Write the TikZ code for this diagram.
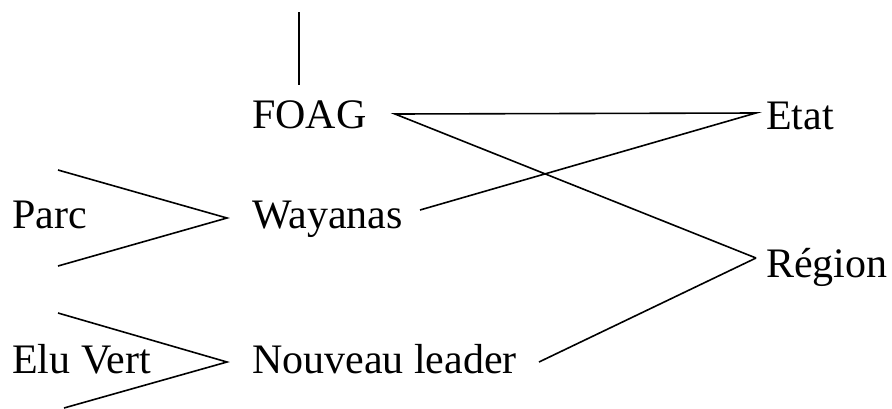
\documentclass[tikz,border=0pt]{standalone}
\usepackage{fontspec}
\setmainfont{Liberation Serif}
\usetikzlibrary{positioning}

\begin{document}
\begin{tikzpicture}[
    x=1pt, y=-1pt,
    actor/.style={anchor=base west, inner sep=0pt, font=\fontsize{42}{50}\selectfont},
    link/.style={line width=1.6pt}
]
\useasboundingbox (0,0) rectangle (892,408);

\node[actor] (foag) at (252,128) {FOAG};
\node[actor] (wayanas) at (252,228) {Wayanas};
\node[actor] (leader) at (252,373) {Nouveau leader};
\node[actor] (parc) at (12,228) {Parc};
\node[actor] (eluvert) at (12,373) {Elu Vert};
\node[actor] (etat) at (766,129) {Etat};
\node[actor] (region) at (766,277) {Région};

% ends of the connectors
\coordinate (top) at (299,12);
\coordinate (foagtop) at (299,85);
\coordinate (foagout) at (395,114);
\coordinate (wayout) at (420,210);
\coordinate (leaderout) at (539,362);
\coordinate (etatin) at (756,113);
\coordinate (regionin) at (756,258);
\coordinate (parcup) at (58,170);
\coordinate (parctip) at (227,218);
\coordinate (parcdown) at (58,266);
\coordinate (eluup) at (58,313);
\coordinate (elutip) at (227,362);
\coordinate (eludown) at (64,408);

\draw[link] (top) -- (foagtop);
\draw[link] (regionin) -- (foagout) -- (etatin) -- (wayout);
\draw[link] (leaderout) -- (regionin);
\draw[link] (parcup) -- (parctip) -- (parcdown);
\draw[link] (eluup) -- (elutip) -- (eludown);
\end{tikzpicture}
\end{document}
